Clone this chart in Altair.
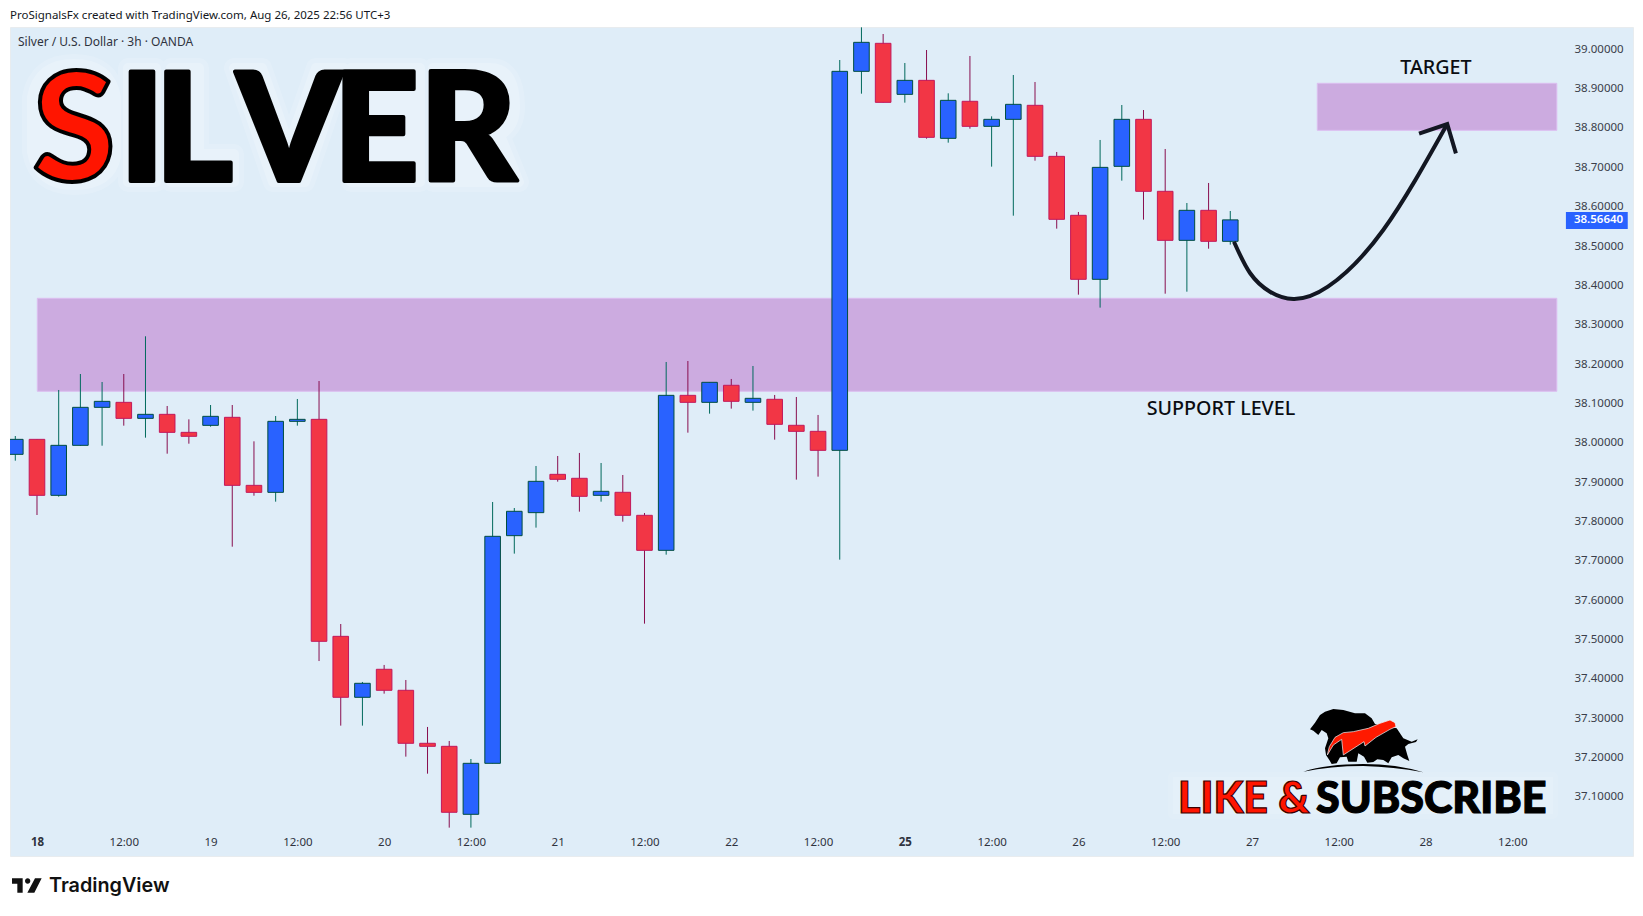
import json
import altair as alt
import pandas as pd

# ---- candle data (3h bars, Silver / USD) ----
opens = [37.9704,38.0085,37.8662,37.9933,38.0899,38.1026,38.0619,38.0721,38.0263,38.0441,38.0645,37.8916,37.8738,38.0543,38.0594,
         37.5078,37.3528,37.424,37.3706,37.2359,37.2282,37.0554,37.185,37.7637,37.8222,37.9196,37.9095,37.8662,37.8739,37.8154,
         37.7264,38.1204,38.1026,38.1459,38.1026,38.1103,38.0442,38.0289,37.9806,38.944,39.0152,38.8855,38.9211,38.7737,38.8678,
         38.8042,38.822,38.8576,38.7279,38.578,38.4153,38.7025,38.822,38.639,38.5144,38.5907,38.5119]
highs = [38.017,38.0085,38.134,38.1746,38.1543,38.1746,38.2705,38.0933,38.0594,38.0958,38.0958,38.0035,38.0679,38.1111,38.1568,
         37.5391,37.3918,37.435,37.3968,37.2774,37.2418,37.196,37.8493,37.834,37.9408,37.9662,37.9739,37.9484,37.9179,37.8213,
         38.2052,38.2077,38.1535,38.162,38.195,38.1213,38.1162,38.0705,38.9728,39.0559,39.0389,38.9652,38.9982,38.8881,38.983,
         38.8296,38.9347,38.9169,38.739,38.5865,38.7695,38.8584,38.8457,38.7466,38.6093,38.6602,38.589]
lows = [37.9543,37.8162,37.8628,37.9924,37.9924,38.0433,38.0128,37.9721,37.9975,38.0407,37.7357,37.8653,37.8501,38.0433,37.445,
        37.2808,37.2808,37.3621,37.202,37.1587,37.0215,37.0215,37.185,37.718,37.7841,37.901,37.8247,37.8501,37.7993,37.54,
        37.7154,38.0255,38.0738,38.0866,38.0815,38.0077,37.9061,37.9137,37.7027,38.8872,38.8652,38.8644,38.7728,38.7627,38.7983,
        38.7017,38.5771,38.7169,38.5441,38.3763,38.3433,38.6661,38.567,38.3788,38.3839,38.4932,38.5034]
closes = [38.0085,37.8662,37.9933,38.0899,38.1051,38.0619,38.0721,38.0263,38.0162,38.067,37.8916,37.8738,38.0543,38.0594,37.4951,
          37.3528,37.3884,37.3706,37.2359,37.2282,37.0605,37.185,37.762,37.8256,37.9018,37.9069,37.8637,37.8764,37.8154,37.7264,
          38.1204,38.1026,38.1535,38.1052,38.1128,38.0467,38.0289,37.9806,38.944,39.0177,38.8652,38.9211,38.7762,38.8703,38.8042,
          38.822,38.8601,38.7279,38.5678,38.4153,38.6999,38.822,38.639,38.5144,38.5907,38.5119,38.5664]

x_tick_values = [1,5,9,13,17,21,25,29,33,37,41,45,49,53,57,61,65,69]
x_tick_labels = ["18","12:00","19","12:00","20","12:00","21","12:00","22","12:00","25","12:00","26","12:00","27","12:00","28","12:00"]
y_tick_values = [37.1,37.2,37.3,37.4,37.5,37.6,37.7,37.8,37.9,38.0,38.1,38.2,38.3,38.4,38.5,38.6,38.7,38.8,38.9,39.0]

# forecast arrow and zones, in bar index / price
curve_i = [56.17,56.91,57.83,58.91,60.5,63.05,66.0]
curve_p = [38.5109,38.4314,38.3838,38.3653,38.3966,38.5407,38.8101]
head_i = [64.70,66.0,66.4]
head_p = [38.7855,38.8101,38.7356]
zone_i = [1.014,60.01]
zone_i2 = [71.05,71.05]
zone_top = [38.3671,38.9136]
zone_bottom = [38.1307,38.7941]
last_price = 38.5664

# ---- colours ----
PANEL = "#dfedf8"
UP, UP_BORDER, UP_WICK = "#2962ff", "#004d40", "#00695c"
DOWN, DOWN_BORDER, DOWN_WICK = "#f23645", "#c2185b", "#880e4f"
ZONE, ZONE_BORDER = "#ccabe0", "#dcbdf0"
INK = "#131722"
GLOW = "#f3f9fe"
FONT = "Noto Sans"

df = pd.DataFrame({"i": range(len(opens)), "open": opens, "high": highs, "low": lows, "close": closes})
df["top"] = df[["open", "close"]].max(axis=1)
df["bottom"] = df[["open", "close"]].min(axis=1)
up = df[df["close"] >= df["open"]]
down = df[df["close"] < df["open"]]

xscale = alt.Scale(domain=[-0.2443, 74.562], nice=False, zero=False, padding=0)
yscale = alt.Scale(domain=[36.9494, 39.0567], nice=False, zero=False)
xaxis = alt.Axis(values=x_tick_values, title=None, orient="bottom", grid=False, domain=False, ticks=False,
                 labelPadding=-14, labelBaseline="middle", labelFont=FONT, labelFontSize=11.5, labelColor="#2f333e",
                 labelExpr=f"{json.dumps(x_tick_labels)}[(datum.value-1)/4]", labelOverlap=False, labelFlush=False,
                 labelFontWeight={"condition": {"test": "datum.value == 1 || datum.value == 41", "value": "bold"}, "value": "normal"})
yaxis = alt.Axis(values=y_tick_values, title=None, orient="right", grid=False, domain=False, ticks=False, format=".5f",
                 labelPadding=-59, labelAlign="left", labelFont=FONT, labelFontSize=11.5, labelColor="#3a3e4a",
                 labelOverlap=False, labelFlush=False)


def X(f):
    return alt.X(f, type="quantitative", scale=xscale, axis=xaxis, title=None)


def Y(f):
    return alt.Y(f, type="quantitative", scale=yscale, axis=yaxis, title=None)


def candles(d, fill, border, wick):
    w = alt.Chart(d).mark_rule(stroke=wick, strokeWidth=1, clip=True).encode(
        x=X("i"), y=Y("high"), y2=alt.Y2("low"))
    b = alt.Chart(d).mark_bar(size=15.6, fill=fill, stroke=border, strokeWidth=1, clip=True).encode(
        x=X("i"), y=Y("top"), y2=alt.Y2("bottom"))
    return [w, b]


zones = alt.Chart(pd.DataFrame({"i": zone_i, "i2": zone_i2, "t": zone_top, "b": zone_bottom})).mark_rect(
    fill=ZONE, stroke=ZONE_BORDER, strokeWidth=1).encode(x=X("i"), x2=alt.X2("i2"), y=Y("t"), y2=alt.Y2("b"))

curve = alt.Chart(pd.DataFrame({"i": curve_i, "p": curve_p})).mark_line(
    stroke=INK, strokeWidth=4, interpolate="natural").encode(x=X("i"), y=Y("p"))
head = alt.Chart(pd.DataFrame({"i": head_i, "p": head_p, "o": [0, 1, 2]})).mark_line(
    stroke=INK, strokeWidth=4).encode(x=X("i"), y=Y("p"), order="o:Q")


def data_text(label, i, p, **kw):
    return alt.Chart(pd.DataFrame({"i": [i], "p": [p], "t": [label]})).mark_text(**kw).encode(
        x=X("i"), y=Y("p"), text="t:N")


target = data_text("TARGET", 65.48, 38.953, font=FONT, fontSize=19.7, fill="#0b0d12", fontWeight=500)
support = data_text("SUPPORT LEVEL", 55.57, 38.0867, font=FONT, fontSize=19.7, fill="#0b0d12", fontWeight=500)

tag = alt.Chart(pd.DataFrame({"i": [71.47], "i2": [74.32], "t": [38.5864], "b": [38.5432]})).mark_rect(
    fill=UP).encode(x=X("i"), x2=alt.X2("i2"), y=Y("t"), y2=alt.Y2("b"))
tag_text = data_text(f"{last_price:.5f}", 71.84, last_price, font=FONT, fontSize=11.5, fill="white", align="left",
                     baseline="middle", fontWeight=600)


def px_text(label, x, y, **kw):
    return alt.Chart(pd.DataFrame({"t": [label]})).mark_text(**kw).encode(
        x=alt.value(x), y=alt.value(y), text="t:N")


def px_shape(path, x, y, size, **kw):
    return alt.Chart(pd.DataFrame({"t": [1]})).mark_point(shape=path, size=size, filled=True, **kw).encode(
        x=alt.value(x), y=alt.value(y))


header = px_text("ProSignalsFx created with TradingView.com, Aug 26, 2025 22:56 UTC+3", 0, -11.5, font=FONT, fontSize=11.5,
                 fill=INK, align="left", baseline="middle")
subtitle = px_text("Silver / U.S. Dollar · 3h · OANDA", 8, 14.7, font=FONT, fontSize=12, fill="#2f333e", align="left",
                   baseline="middle")

# soft halos behind the headline and the subscribe line (path units: plot pixels, size 4 gives that scale)
silver_halo = ("M64,37 Q100,37 106,70 L106,130 Q100,158 64,158 Q28,158 22,125 L22,70 Q28,37 64,37 Z "
               "M118,41 H146 V155 H118 Z M161,41 H189 V127 H224 V155 H161 Z "
               "M224,41 H252 L279,118 L306,41 H334 L295,155 H263 Z M341,41 H410 V155 H341 Z "
               "M423,41 H480 Q505,41 505,80 Q505,100 490,108 L509,155 H423 Z")
sub_halo = "M1163,750 H1543 V787 H1163 Z"
halos = [
    px_shape(silver_halo, 0, 0, 4, fill=GLOW, stroke=GLOW, strokeWidth=20, strokeJoin="round", opacity=0.22),
    px_shape(silver_halo, 0, 0, 4, fill=GLOW, stroke=GLOW, strokeWidth=10, strokeJoin="round", opacity=0.35),
    px_shape(sub_halo, 0, 0, 4, fill=GLOW, stroke=GLOW, strokeWidth=10, strokeJoin="round", opacity=0.12),
    px_shape(sub_halo, 0, 0, 4, fill=GLOW, opacity=0.22),
]

# headline letters
letters = ["S", "I", "L", "V", "E", "R"]
letter_x = [64, 132, 184, 279, 366, 458]
silver = []
for ch, lx in zip(letters, letter_x):
    fill = "#ff1500" if ch == "S" else "black"
    silver.append(px_text(ch, lx, 154, font="Lato", fontWeight=900, fontSize=150, fill=fill, stroke="black",
                          strokeWidth=4, strokeJoin="round", baseline="alphabetic"))

# like & subscribe block
sub = [
    px_text("LIKE &", 1168, 785.5, font="Lato", fontWeight=900, fontSize=43, fill="#ff1500", stroke="#3a0000",
            strokeWidth=1.2, align="left", baseline="alphabetic"),
    px_text("SUBSCRIBE", 1306, 785.5, font="Lato", fontWeight=900, fontSize=43, fill="black", stroke="black",
            strokeWidth=1.2, align="left", baseline="alphabetic"),
]

# logo silhouettes, path units are a third of a pixel (size 4/9 gives that scale)
bull_body = ("M60,88 L75,68 L90,45 L105,35 L130,27 L160,30 L195,40 L225,40 L245,55 L255,72 L320,85 L340,115 L365,125 "
             "L383,118 L378,126 L355,132 L345,140 L352,165 L358,183 L340,175 L325,165 L305,172 L295,190 L280,180 L262,178 "
             "L250,186 L232,188 L222,170 L205,160 L200,185 L175,185 L170,170 L150,172 L140,190 L125,192 L118,180 L108,165 "
             "L105,145 L115,115 L110,100 L95,90 L85,105 L70,92 Z")
bull_red = ("M112,165 L118,140 L135,112 L160,98 L190,95 L235,85 L270,70 L300,60 L315,68 L318,80 L300,88 L258,112 L225,138 "
            "L222,125 L160,165 L155,118 L130,135 Z")
bull_ground = "M40,215 Q110,192 220,192 Q320,192 400,217 Q310,200 220,198 Q120,198 40,215 Z"
tv_mark = "M36,55 H68 V98 H52 V71 H36 Z M75,63 a8,8 0 1 0 16,0 a8,8 0 1 0 -16,0 Z M105,55 H125 L103,98 H82 Z"
S = 4 / 9
logo = [
    px_shape(bull_body, 1280, 673, S, fill="black", opacity=1),
    px_shape(bull_red, 1280, 673, S, fill="#ff1a00", stroke="#eef3f8", strokeWidth=0.7, opacity=1),
    px_shape(bull_ground, 1280, 673, S, fill="black", opacity=1),
]
tv = [
    px_shape(tv_mark, -10, 833, S, fill="#111111", opacity=1),
    px_text("TradingView", 39, 859, font="Inter", fontWeight=600, fontSize=19.8, fill="#111111", align="left",
            baseline="middle"),
]

layers = [zones] + candles(up, UP, UP_BORDER, UP_WICK) + candles(down, DOWN, DOWN_BORDER, DOWN_WICK) + [
    curve, head, target, support, tag, tag_text, header, subtitle] + halos + silver + sub + logo + tv

chart = alt.layer(*layers).properties(
    width=1623, height=829,
    padding={"left": 2, "top": 19, "right": 2, "bottom": 50},
    autosize=alt.AutoSizeParams(type="none"),
    background="white",
).configure_view(fill=PANEL, stroke="#e8ecef")

chart.save("out.html", embed_options={"renderer": "svg", "actions": False})
